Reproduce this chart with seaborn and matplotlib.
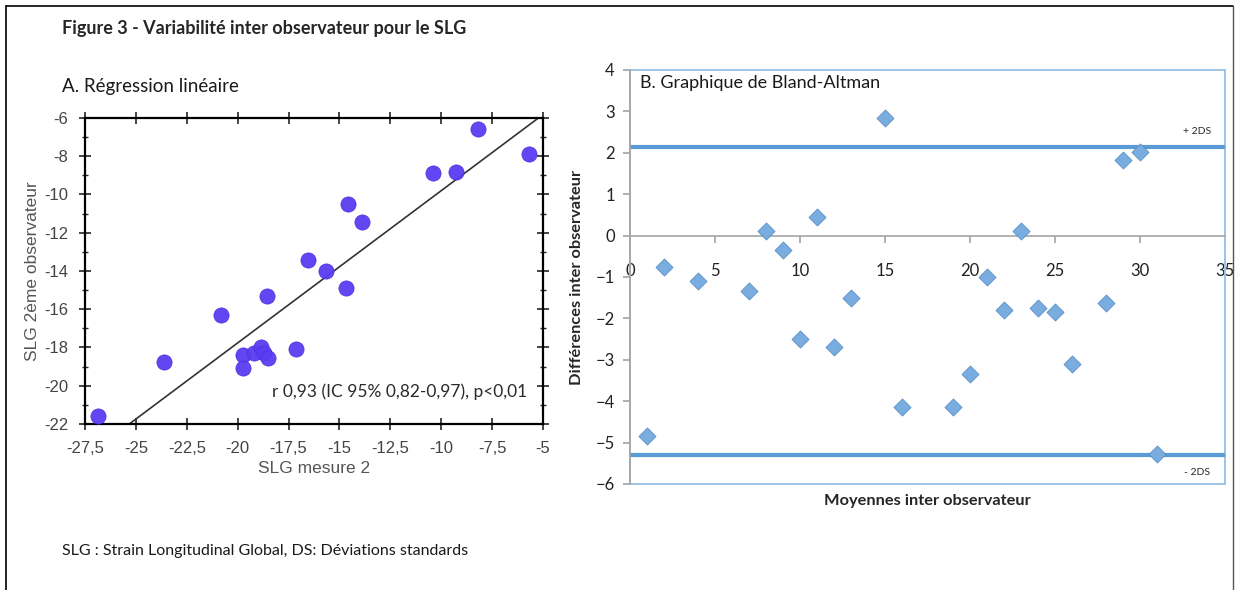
import numpy as np
import pandas as pd
import matplotlib
matplotlib.use("Agg")
import matplotlib.pyplot as plt
from matplotlib.lines import Line2D
from matplotlib.patches import Rectangle
from matplotlib.ticker import MultipleLocator, FuncFormatter
import seaborn as sns

# A. regression : mesure 2 vs 2eme observateur
slg_mesure2 = [-26.85, -23.6, -20.8, -19.75, -19.75, -19.2, -18.85, -18.7, -18.5,
               -18.55, -17.15, -16.55, -15.65, -14.6, -14.7, -13.9, -10.4, -9.25,
               -8.2, -5.7]
slg_obs2 = [-21.6, -18.75, -16.3, -18.4, -19.05, -18.3, -17.95, -18.3, -18.55,
            -15.3, -18.1, -13.4, -14.0, -10.5, -14.9, -11.45, -8.85, -8.8,
            -6.6, -7.9]
reg_slope = 0.796
reg_intercept = -1.84

# B. Bland-Altman
ba_moyennes = [1, 2, 4, 7, 8, 9, 10, 11, 12, 13, 15, 16, 19, 20, 21, 22, 23, 24,
               25, 26, 28, 29, 30, 31]
ba_differences = [-4.84, -0.75, -1.10, -1.35, 0.10, -0.35, -2.49, 0.45, -2.69,
                  -1.50, 2.83, -4.15, -4.14, -3.34, -1.00, -1.79, 0.10, -1.74,
                  -1.85, -3.09, -1.63, 1.82, 2.01, -5.28]
limite_haute = 2.14
limite_basse = -5.30

df_reg = pd.DataFrame({"x": slg_mesure2, "y": slg_obs2})
df_ba = pd.DataFrame({"moy": ba_moyennes, "diff": ba_differences})

sns.set_theme(style="white")
plt.rcParams["font.family"] = ["Lato", "DejaVu Sans"]
arial = ["Liberation Sans", "DejaVu Sans"]

fig = plt.figure(figsize=(12.38, 5.90), dpi=100)

# cadre de la page
fig.add_artist(Line2D([0.005, 0.996], [0.99, 0.99], color="black", lw=1.2))
fig.add_artist(Line2D([0.005, 0.005], [0.0, 0.99], color="black", lw=1.2))
fig.add_artist(Line2D([0.996, 0.996], [0.0, 0.99], color="#555555", lw=1.0))

fig.text(0.050, 0.952, "Figure 3 - Variabilité inter observateur pour le SLG",
         fontsize=13, fontweight="bold", va="center")
fig.text(0.050, 0.853, "A. Régression linéaire", fontsize=13.5, va="center",
         color="#1a1a1a")
fig.text(0.050, 0.066, "SLG : Strain Longitudinal Global, DS: Déviations standards",
         fontsize=11.5, va="center", color="#1a1a1a")

# ---- A : regression lineaire
ax1 = fig.add_axes([0.0687, 0.2814, 0.3699, 0.5186])
sns.scatterplot(data=df_reg, x="x", y="y", ax=ax1, color="#5a3cf2", s=120,
                edgecolor="#4a2ee0", linewidth=0.5, alpha=0.95, zorder=3)
xx = np.linspace(-27.5, -5, 50)
sns.lineplot(x=xx, y=reg_slope * xx + reg_intercept, ax=ax1, color="#333333",
             lw=1.2, zorder=2)
ax1.set_xlim(-27.5, -5)
ax1.set_ylim(-22, -6)
ax1.xaxis.set_major_locator(MultipleLocator(2.5))
ax1.yaxis.set_major_locator(MultipleLocator(2))
ax1.yaxis.set_minor_locator(MultipleLocator(1))
fmt = FuncFormatter(lambda v, p: ("%g" % v).replace(".", ","))
ax1.xaxis.set_major_formatter(fmt)
ax1.yaxis.set_major_formatter(fmt)
ax1.tick_params(which="major", direction="inout", length=8, width=1.2,
                top=True, right=True, bottom=True, left=True,
                labelsize=12, labelcolor="#444444", pad=8)
ax1.tick_params(which="minor", direction="inout", length=4, width=1,
                left=True, right=True)
for lab in ax1.get_xticklabels() + ax1.get_yticklabels():
    lab.set_family(arial)
for sp in ax1.spines.values():
    sp.set_color("black")
    sp.set_linewidth(1.6)
ax1.set_xlabel("SLG mesure 2", fontsize=12.5, color="#555555", family=arial,
               labelpad=4)
ax1.set_ylabel("SLG 2ème observateur", fontsize=12.5, color="#555555",
               family=arial, labelpad=3)
ax1.text(0.965, 0.105, "r 0,93 (IC 95% 0,82-0,97), p<0,01", transform=ax1.transAxes,
         ha="right", va="center", fontsize=12.5, color="#2a2a2a")

# ---- B : Bland-Altman
ax2 = fig.add_axes([0.5089, 0.1797, 0.4806, 0.7017])
ax2.axhline(limite_haute, color="#5b9bd5", lw=3, zorder=2)
ax2.axhline(limite_basse, color="#5b9bd5", lw=3, zorder=2)
sns.scatterplot(data=df_ba, x="moy", y="diff", ax=ax2, marker="D", s=75,
                color="#79addf", edgecolor="#5a8fc8", linewidth=0.6, zorder=3)
ax2.set_xlim(0, 35)
ax2.set_ylim(-6, 4)
ax2.xaxis.set_major_locator(MultipleLocator(5))
ax2.yaxis.set_major_locator(MultipleLocator(1))
ax2.spines["bottom"].set_position(("data", 0))
ax2.spines["top"].set_visible(False)
ax2.spines["right"].set_visible(False)
ax2.spines["bottom"].set_color("#a6a6a6")
ax2.spines["left"].set_color("#a6a6a6")
ax2.spines["bottom"].set_linewidth(1.2)
ax2.spines["left"].set_linewidth(1.2)
ax2.tick_params(axis="x", direction="out", length=5, color="#a6a6a6",
                bottom=True, labelsize=12, pad=15, labelcolor="#222222")
ax2.tick_params(axis="y", direction="out", length=5, color="#a6a6a6",
                left=True, labelsize=12, pad=6, labelcolor="#222222")
ax2.add_patch(Rectangle((0, 0), 1, 1, transform=ax2.transAxes, fill=False,
                        edgecolor="#9cc3e6", lw=1.4, zorder=1, clip_on=False))
ax2.set_xlabel("")
ax2.set_ylabel("Différences inter observateur", fontsize=11.8, fontweight="bold",
               labelpad=8)
ax2.text(0.5, -0.04, "Moyennes inter observateur", transform=ax2.transAxes,
         ha="center", va="center", fontsize=11.8, fontweight="bold")
ax2.text(0.017, 0.968, "B. Graphique de Bland-Altman", transform=ax2.transAxes,
         ha="left", va="center", fontsize=13, color="#1a1a1a")
ax2.text(0.953, 0.852, "+ 2DS", transform=ax2.transAxes, ha="center",
         va="center", fontsize=7.5)
ax2.text(0.953, 0.027, "- 2DS", transform=ax2.transAxes, ha="center",
         va="center", fontsize=7.5)

fig.savefig("out.png", dpi=100)
